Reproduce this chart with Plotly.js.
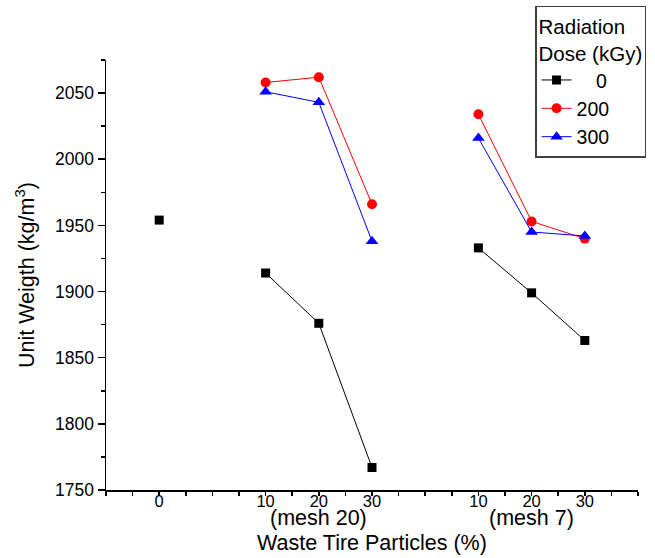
<!DOCTYPE html>
<html>
<head>
<meta charset="utf-8">
<script src="https://cdn.plot.ly/plotly-3.0.1.min.js"></script>
<style>html,body{margin:0;padding:0;background:#fff;} #chart{width:655px;height:558px;}</style>
</head>
<body>
<div id="chart"></div>
<script>
// Category slots on the x axis (0 control, mesh 20 group, mesh 7 group)
const xSlots = [0, 2, 3, 4, 6, 7, 8];
const particleLabels = ["0", "10", "20", "30", "10", "20", "30"];
const meshGroupLabels = ["(mesh 20)", "(mesh 7)"];
const meshGroupSlots = [3, 7];

// Unit weight (kg/m^3) by radiation dose (kGy)
const doseNames = ["0", "200", "300"];
const dose0 = [1954, 1914, 1876, 1767, 1933, 1899, 1863];
const dose200 = [null, 2058, 2062, 1966, 2034, 1953, 1940];
const dose300 = [null, 2051, 2043, 1938, 2016, 1945, 1942];

const colors = ["#000000", "#ff0000", "#0000ff"];
const symbols = ["square", "circle", "triangle-up"];
const sizes = [9, 10, 11];

// insert gaps between groups so lines break
function withGaps(vals) {
  const xs = [], ys = [];
  for (let i = 0; i < xSlots.length; i++) {
    if (i > 0 && xSlots[i] - xSlots[i - 1] > 1) { xs.push(xSlots[i] - 1); ys.push(null); }
    xs.push(xSlots[i]); ys.push(vals[i]);
  }
  return {xs, ys};
}

const series = [dose0, dose200, dose300];
const pad = "\u2002\u2002";
const legendNames = [pad + doseNames[0], doseNames[1], doseNames[2]];
const traces = series.map((vals, k) => {
  const g = withGaps(vals);
  return {
    x: g.xs, y: g.ys, name: legendNames[k],
    type: "scatter", mode: "lines+markers", connectgaps: false,
    line: {color: colors[k], width: 1},
    marker: {symbol: symbols[k], size: sizes[k], color: colors[k]}
  };
});

const tickvals = [], ticktext = [];
for (let v = -1; v <= 9.001; v += 0.5) {
  tickvals.push(v);
  const idx = xSlots.indexOf(v);
  ticktext.push(idx >= 0 ? particleLabels[idx] : "");
}

const font = "Liberation Sans, Arial, sans-serif";
const layout = {
  width: 655, height: 558,
  margin: {l: 106, r: 17, t: 60, b: 68, autoexpand: false},
  paper_bgcolor: "#fff", plot_bgcolor: "#fff",
  font: {family: font, color: "#000"},
  showlegend: true,
  xaxis: {
    range: [-1, 9], tickmode: "array", tickvals: tickvals, ticktext: ticktext,
    ticks: "outside", ticklen: 4, tickwidth: 1.5, tickcolor: "#000",
    ticklabelstandoff: -8,
    showline: true, linewidth: 1.5, linecolor: "#000",
    showgrid: false, zeroline: false,
    tickfont: {size: 16.5, family: font},
    title: {text: "Waste Tire Particles (%)", font: {size: 21.5, family: font}, standoff: 25}
  },
  yaxis: {
    range: [1750, 2075], tickmode: "linear", tick0: 1750, dtick: 50,
    ticks: "outside", ticklen: 7, tickwidth: 1.5, tickcolor: "#000",
    minor: {tickmode: "linear", tick0: 1750, dtick: 25, ticks: "outside", ticklen: 4, tickwidth: 1.5, tickcolor: "#000", showgrid: false},
    showline: true, linewidth: 1.5, linecolor: "#000",
    showgrid: false, zeroline: false,
    tickfont: {size: 17.5, family: font},
    title: {text: "Unit Weigth (kg/m<sup>3</sup>)", font: {size: 21.5, family: font}, standoff: 14}
  },
  legend: {
    x: 0.8065, y: 1.1256, xanchor: "left", yanchor: "top",
    bgcolor: "#fff", bordercolor: "#404040", borderwidth: 1.5,
    font: {size: 19.5, family: font, color: "#000"},
    title: {text: "Radiation<br>Dose (kGy)", font: {size: 20.5, family: font}, side: "top"},
    tracegroupgap: 0, itemsizing: "trace"
  },
  annotations: meshGroupLabels.map((t, i) => ({
    text: t, x: meshGroupSlots[i], xref: "x", y: -0.066, yref: "paper",
    showarrow: false, xanchor: "center", yanchor: "middle",
    font: {size: 21.5, family: font, color: "#000"}
  }))
};

Plotly.newPlot("chart", traces, layout, {displayModeBar: false, staticPlot: true});
</script>
</body>
</html>
